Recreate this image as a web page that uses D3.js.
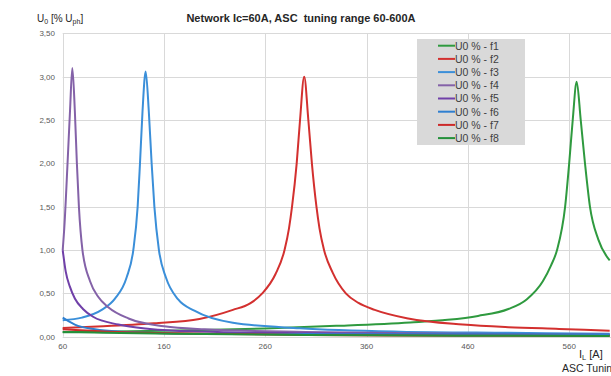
<!DOCTYPE html>
<html>
<head>
<meta charset="utf-8">
<script src="https://cdn.jsdelivr.net/npm/d3@7"></script>
<style>
  html, body { margin: 0; padding: 0; background: #fff; overflow: hidden; }
  text { font-family: "Liberation Sans", Arial, sans-serif; }
</style>
</head>
<body>
<div id="chart"></div>
<script>
// values (I_L in A, U0 in % of Uph)
const xTicks = [60, 160, 260, 360, 460, 560];
const yTicks = [0, 0.5, 1, 1.5, 2, 2.5, 3, 3.5];
const seriesNames = ["U0 % - f1", "U0 % - f2", "U0 % - f3", "U0 % - f4", "U0 % - f5", "U0 % - f6", "U0 % - f7", "U0 % - f8"];
const seriesColors = ["#2f9a3f", "#d3302f", "#3b8fd9", "#8462a8", "#7040a8", "#2f7fd0", "#cc2a2a", "#23903a"];

const xF1 = [60, 160, 260, 330, 403, 440, 470, 500, 518, 534, 542, 548, 556, 560, 563.5, 567.4, 571.4, 575.6, 580.5, 588.8, 600];
const yF1 = [0.05, 0.07, 0.095, 0.125, 0.165, 0.195, 0.24, 0.32, 0.43, 0.64, 0.82, 1.0, 1.5, 2.0, 2.5, 2.94, 2.5, 2.0, 1.5, 1.12, 0.88];

const xF2 = [60, 100, 150, 195, 228, 245, 257, 270, 279, 283.4, 286.4, 291, 294.3, 298.4, 302.5, 306, 310.5, 313.5, 318, 326.5, 339.5, 352, 368, 401, 455, 500, 550, 600];
const yF2 = [0.10, 0.12, 0.155, 0.205, 0.31, 0.385, 0.5, 0.72, 1.0, 1.25, 1.5, 2.0, 2.5, 3.0, 2.5, 2.0, 1.5, 1.25, 1.0, 0.74, 0.5, 0.39, 0.31, 0.21, 0.14, 0.11, 0.09, 0.07];

const xF3 = [60, 79, 98.5, 111.6, 123, 129.7, 134, 136.3, 138.8, 141.9, 145, 147.8, 150.5, 155, 162, 174, 190, 228, 294, 393, 500, 600];
const yF3 = [0.19, 0.22, 0.31, 0.44, 0.68, 1.0, 1.5, 2.0, 2.6, 3.06, 2.6, 2.0, 1.5, 1.0, 0.68, 0.43, 0.3, 0.16, 0.097, 0.058, 0.045, 0.035];

const xF4 = [60, 61.6, 64.9, 67.2, 69.5, 72, 74, 76, 79.5, 87, 95, 105, 125, 160, 200, 300, 400, 600];
const yF4 = [1.0, 1.26, 2.03, 2.6, 3.10, 2.6, 2.0, 1.5, 1.0, 0.64, 0.46, 0.34, 0.21, 0.12, 0.085, 0.055, 0.04, 0.025];

const xF5 = [60, 63, 67, 72, 80, 90, 115, 146, 195, 300, 450, 600];
const yF5 = [1.0, 0.75, 0.58, 0.44, 0.32, 0.23, 0.14, 0.09, 0.06, 0.04, 0.03, 0.02];

const xF6 = [60, 72, 92, 118, 190, 300, 450, 600];
const yF6 = [0.22, 0.14, 0.085, 0.058, 0.035, 0.03, 0.028, 0.025];

const xF7 = [60, 100, 200, 300, 450, 600];
const yF7 = [0.085, 0.06, 0.035, 0.02, 0.012, 0.008];

const xF8 = [60, 100, 200, 300, 450, 600];
const yF8 = [0.055, 0.045, 0.03, 0.02, 0.012, 0.008];

const xs = [xF1, xF2, xF3, xF4, xF5, xF6, xF7, xF8];
const ys = [yF1, yF2, yF3, yF4, yF5, yF6, yF7, yF8];

const width = 611, height = 376;
const svg = d3.select("#chart").append("svg")
    .attr("width", width)
    .attr("height", height);

const x = d3.scaleLinear().domain([60, 600]).range([62.7, 609.7]);
const y = d3.scaleLinear().domain([0, 3.5]).range([336.7, 33.3]);

// grid
svg.append("g").selectAll("line.h")
    .data(yTicks).enter().append("line")
    .attr("x1", x(60)).attr("x2", width)
    .attr("y1", d => Math.round(y(d)) + 0.5).attr("y2", d => Math.round(y(d)) + 0.5)
    .attr("stroke", "#d9d9d9").attr("stroke-width", 1);
svg.append("g").selectAll("line.v")
    .data(xTicks).enter().append("line")
    .attr("x1", d => Math.round(x(d)) + 0.5).attr("x2", d => Math.round(x(d)) + 0.5)
    .attr("y1", y(3.5)).attr("y2", y(0))
    .attr("stroke", "#d9d9d9").attr("stroke-width", 1);

// tick labels
const fmt = d => d3.format(".2f")(d).replace(".", ",");
svg.append("g").selectAll("text")
    .data(yTicks).enter().append("text")
    .attr("x", 55).attr("y", d => y(d) + 3)
    .attr("text-anchor", "end")
    .attr("font-size", 8).attr("fill", "#595959")
    .text(fmt);
svg.append("g").selectAll("text")
    .data(xTicks).enter().append("text")
    .attr("x", d => x(d)).attr("y", 349)
    .attr("text-anchor", "middle")
    .attr("font-size", 8).attr("fill", "#595959")
    .text(d => d);

// series
const line = d3.line()
    .x(d => x(d[0]))
    .y(d => y(d[1]))
    .curve(d3.curveMonotoneX);

svg.append("g").selectAll("path")
    .data(d3.range(8)).enter().append("path")
    .attr("d", i => line(xs[i].map((v, k) => [v, ys[i][k]])))
    .attr("fill", "none")
    .attr("stroke", i => seriesColors[i])
    .attr("stroke-width", 2)
    .attr("stroke-linejoin", "round");

// legend
const lg = svg.append("g");
lg.append("rect")
    .attr("x", 417).attr("y", 39).attr("width", 108).attr("height", 106)
    .attr("fill", "#d9d9d9");
seriesNames.forEach((name, i) => {
    const ly = 45.7 + i * 13.2;
    lg.append("line")
        .attr("x1", 438).attr("x2", 455).attr("y1", ly).attr("y2", ly)
        .attr("stroke", seriesColors[i]).attr("stroke-width", 2);
    lg.append("text")
        .attr("x", 455).attr("y", ly + 3.8)
        .attr("font-size", 10.5).attr("fill", "#404040")
        .text(name);
});

// titles
svg.append("text")
    .attr("x", 301).attr("y", 22)
    .attr("text-anchor", "middle")
    .attr("font-size", 11).attr("font-weight", "bold").attr("fill", "#262626")
    .attr("xml:space", "preserve")
    .text("Network Ic=60A, ASC  tuning range 60-600A");

const yt = svg.append("text")
    .attr("x", 37).attr("y", 22)
    .attr("font-size", 10).attr("fill", "#262626");
yt.append("tspan").text("U");
yt.append("tspan").attr("font-size", 7).attr("dy", 2).text("0");
yt.append("tspan").attr("dy", -2).text(" [% U");
yt.append("tspan").attr("font-size", 7).attr("dy", 2).text("ph");
yt.append("tspan").attr("dy", -2).text("]");

const xt = svg.append("text")
    .attr("x", 579).attr("y", 358)
    .attr("font-size", 11).attr("fill", "#262626");
xt.append("tspan").text("I");
xt.append("tspan").attr("font-size", 7.5).attr("dy", 2).text("L");
xt.append("tspan").attr("dy", -2).text(" [A]");

svg.append("text")
    .attr("x", 562).attr("y", 372)
    .attr("font-size", 10.5).attr("fill", "#262626")
    .text("ASC Tuning");
</script>
</body>
</html>
